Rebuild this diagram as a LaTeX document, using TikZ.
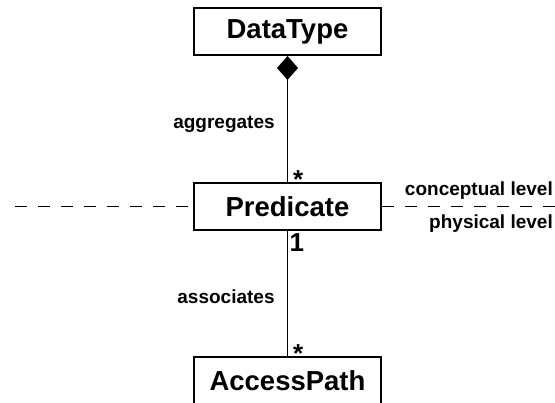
\documentclass[tikz,border=0pt]{standalone}
\usepackage{fontspec}
\setmainfont{Liberation Sans}
\usetikzlibrary{arrows.meta}
\begin{document}
\begin{tikzpicture}[x=1pt,y=-1pt,
  classbox/.style={draw,line width=2pt,minimum width=187pt,minimum height=47pt,
    inner sep=0pt,font=\fontsize{27.5}{30}\selectfont\bfseries},
  assoc/.style={line width=1.8pt},
  lbl/.style={font=\fontsize{19}{21}\selectfont\bfseries,inner sep=0pt},
  mult/.style={font=\fontsize{26}{28}\selectfont\bfseries,inner sep=0pt,anchor=base west},
  level/.style={dash pattern=on 12pt off 11pt,line width=1.5pt}]
\useasboundingbox (0,0) rectangle (555,403);
\node[classbox] (dt) at (287.5,31.5) {DataType};
\node[classbox] (pr) at (287.5,206.5) {Predicate};
\node[classbox] (ap) at (287.5,380.5) {AccessPath};
\coordinate (dl) at (15,206.5);
\coordinate (dr) at (555,206.5);
\draw[level] (dl) -- (pr.west);
\draw[level] (pr.east) -- (dr);
\draw[assoc,{Diamond[length=24pt,width=21pt]}-] (dt.south) -- (pr.north);
\draw[assoc] (pr.south) -- (ap.north);
\node[lbl,anchor=base] (agg) at (224,129) {aggregates};
\node[lbl,anchor=base] (ass) at (226,304) {associates};
\node[mult] (m1) at (293,188.5) {*};
\node[mult] (m2) at (289.5,252) {1};
\node[mult] (m3) at (293,362.5) {*};
\node[lbl,anchor=base east] (cl) at (553,196) {conceptual level};
\node[lbl,anchor=base east] (pl) at (553,229) {physical level};
\end{tikzpicture}
\end{document}
